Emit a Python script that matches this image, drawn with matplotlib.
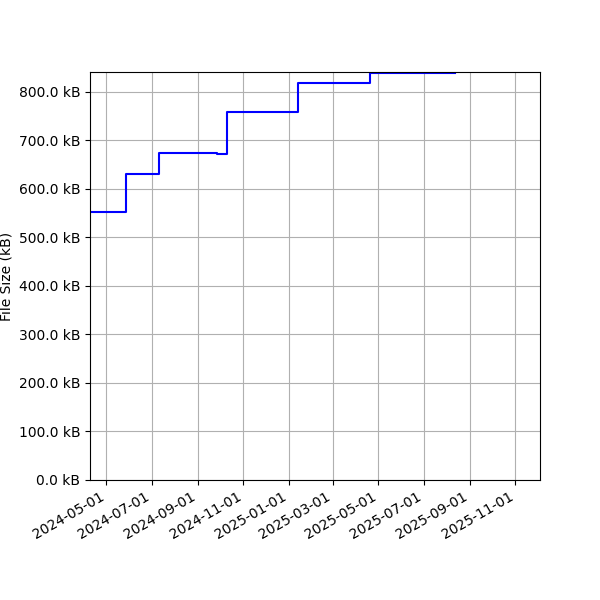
import datetime
import matplotlib
matplotlib.use("Agg")
import matplotlib.pyplot as plt
import matplotlib.dates as mdates
from matplotlib.ticker import FuncFormatter

# dates where the file size changed, and the size (kB) from that date on
change_dates = ["2024-04-09", "2024-05-27", "2024-07-11", "2024-09-27",
                "2024-10-10", "2025-01-13", "2025-04-20", "2025-08-12"]
sizes_kb = [552.5, 631.5, 673.5, 672.0, 758.0, 819.0, 839.0, 839.0]

y_top = 841.0
x_end = "2025-12-04"

dates = [datetime.datetime.strptime(d, "%Y-%m-%d") for d in change_dates]

fig, ax = plt.subplots(figsize=(6, 6), dpi=100)
ax.step(dates, sizes_kb, where="post", color="blue")

ax.set_ylabel("File Size (kB)")
ax.yaxis.set_major_formatter(FuncFormatter(lambda v, pos: f"{v:.1f} kB"))
ax.set_ylim(0, y_top)
ax.set_xlim(dates[0], datetime.datetime.strptime(x_end, "%Y-%m-%d"))

ax.xaxis.set_major_locator(mdates.MonthLocator(bymonth=[1, 3, 5, 7, 9, 11]))
ax.xaxis.set_major_formatter(mdates.DateFormatter("%Y-%m-%d"))
ax.grid(True)

fig.autofmt_xdate()
fig.subplots_adjust(left=0.15, right=0.9, top=0.88, bottom=0.2)
fig.savefig("out.png")
